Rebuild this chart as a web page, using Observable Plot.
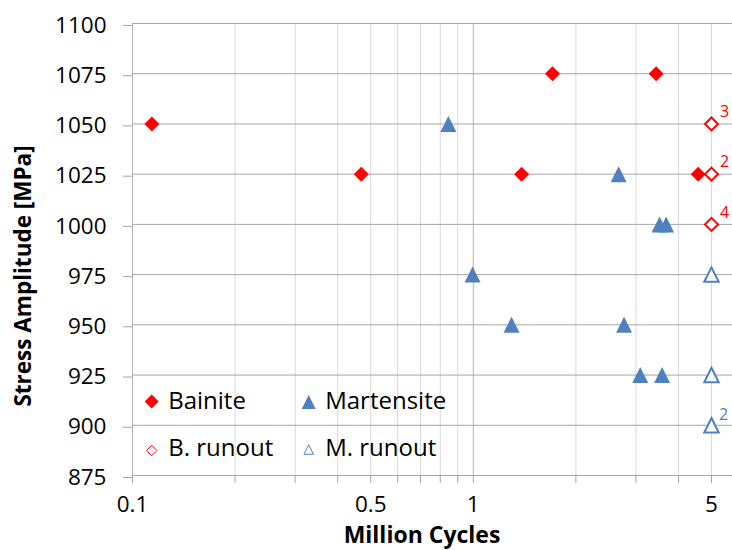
<!DOCTYPE html>
<html>
<head>
<meta charset="utf-8">
<script src="https://cdn.jsdelivr.net/npm/d3@7"></script>
<script src="https://cdn.jsdelivr.net/npm/@observablehq/plot@0.6"></script>
<style>
  body { margin: 0; background: #fff; }
  #wrap { position: relative; width: 732px; height: 550px; overflow: hidden; font-family: "Open Sans", sans-serif; }
  #wrap svg.overlay { position: absolute; left: 0; top: 0; pointer-events: none; }
</style>
</head>
<body>
<div id="wrap"></div>
<script>
// ---- Data ----
const bainiteCycles = [0.114, 0.469, 1.386, 1.708, 3.44, 4.57];
const bainiteStress = [1050, 1025, 1025, 1075, 1075, 1025];

const martensiteCycles = [0.845, 0.995, 1.295, 2.67, 2.77, 3.09, 3.52, 3.58, 3.68];
const martensiteStress = [1050, 975, 950, 1025, 950, 925, 1000, 925, 1000];

const bRunoutCycles = [5, 5, 5];
const bRunoutStress = [1050, 1025, 1000];
const bRunoutCount = [3, 2, 4];

const mRunoutCycles = [5, 5, 5];
const mRunoutStress = [975, 925, 900];
const mRunoutCount = [1, 1, 2];

const seriesNames = ["Bainite", "Martensite", "B. runout", "M. runout"];
const xTickLabels = [0.1, 0.5, 1, 5];
const xMajorGrid = [0.1, 1];
const xMinorGrid = [0.2, 0.3, 0.4, 0.5, 0.6, 0.7, 0.8, 0.9, 2, 3, 4, 5];
const yTicks = [875, 900, 925, 950, 975, 1000, 1025, 1050, 1075, 1100];
const xDomain = [0.1, 5.763];
const yDomain = [875, 1100];

// ---- Styles ----
const RED = "#ff0000";
const BLUE = "#4f81bd";

// bbox-centred symbols whose extent is sqrt(size)
const diamondSym = { draw(ctx, size) { const h = Math.sqrt(size) / 2; ctx.moveTo(0, -h); ctx.lineTo(h, 0); ctx.lineTo(0, h); ctx.lineTo(-h, 0); ctx.closePath(); } };
const triSym = { draw(ctx, size) { const h = Math.sqrt(size) / 2; ctx.moveTo(0, -h); ctx.lineTo(h, h); ctx.lineTo(-h, h); ctx.closePath(); } };
const rFor = s => s / Math.sqrt(Math.PI);

const zip = (xs, ys, extra) => xs.map((x, i) => ({ x, y: ys[i], n: extra ? extra[i] : null }));
const bainite = zip(bainiteCycles, bainiteStress);
const martensite = zip(martensiteCycles, martensiteStress);
const bRunout = zip(bRunoutCycles, bRunoutStress, bRunoutCount);
const mRunout = zip(mRunoutCycles, mRunoutStress, mRunoutCount);

const allTicks = [...xMajorGrid, ...xMinorGrid];

const chart = Plot.plot({
  width: 732,
  height: 550,
  marginLeft: 132,
  marginRight: 0,
  marginTop: 23,
  marginBottom: 75,
  x: { type: "log", domain: xDomain },
  y: { domain: yDomain },
  style: { fontFamily: "'Open Sans', sans-serif", fontSize: "22px", color: "black", background: "white", overflow: "visible" },
  marks: [
    Plot.ruleX(xMinorGrid, { stroke: "#d9d9d9", strokeWidth: 1 }),
    Plot.ruleX(xMajorGrid, { stroke: "#b3b3b3", strokeWidth: 1 }),
    Plot.ruleY(yTicks, { stroke: "#a6a6a6", strokeWidth: 1 }),
    Plot.axisY(yTicks, { tickSize: 9, tickPadding: 17, stroke: "#a6a6a6", fill: "black", strokeOpacity: 1, tickFormat: d => String(d), label: null, fontSize: 22.5, dy: 2 }),
    Plot.axisX(allTicks, { tickSize: 8, stroke: "#a6a6a6", strokeOpacity: 1, tickFormat: () => "", label: null }),
    Plot.axisX(xTickLabels, { tickSize: 0, tickPadding: 21, fill: "black", tickFormat: d => String(d), label: null, fontSize: 22.5 }),
    Plot.dot(bainite, { x: "x", y: "y", symbol: diamondSym, r: rFor(15), fill: RED, stroke: "none" }),
    Plot.dot(martensite, { x: "x", y: "y", symbol: triSym, r: rFor(16), fill: BLUE, stroke: "none" }),
    Plot.dot(bRunout, { x: "x", y: "y", symbol: diamondSym, r: rFor(13), fill: "white", stroke: RED, strokeWidth: 2 }),
    Plot.dot(mRunout, { x: "x", y: "y", symbol: triSym, r: rFor(14.5), fill: "white", stroke: BLUE, strokeWidth: 2 }),
    Plot.text(bRunout.filter(d => d.n > 1), { x: "x", y: "y", text: d => String(d.n), dx: 13, dy: -12, fill: RED, fontSize: 16 }),
    Plot.text(mRunout.filter(d => d.n > 1), { x: "x", y: "y", text: d => String(d.n), dx: 12, dy: -10, fill: BLUE, fontSize: 16 })
  ]
});

const wrap = document.getElementById("wrap");
wrap.appendChild(chart);

// ---- Overlay: axis titles and legend ----
const ov = d3.select(wrap).append("svg").attr("class", "overlay")
  .attr("width", 732).attr("height", 550)
  .style("font-family", "'Open Sans', sans-serif");

ov.append("text")
  .attr("transform", "translate(31,276) rotate(-90)")
  .attr("text-anchor", "middle")
  .attr("font-weight", "bold").attr("font-size", 22.5).attr("fill", "black")
  .text("Stress Amplitude [MPa]");

ov.append("text")
  .attr("x", 422).attr("y", 543)
  .attr("text-anchor", "middle")
  .attr("font-weight", "bold").attr("font-size", 23).attr("fill", "black")
  .text("Million Cycles");

const legendItems = [
  { name: seriesNames[0], sym: diamondSym, s: 14, fill: RED, stroke: "none", sw: 0, mx: 151.7, my: 401.5, ty: 408.5 },
  { name: seriesNames[1], sym: triSym, s: 14, fill: BLUE, stroke: "none", sw: 0, mx: 308.7, my: 402, ty: 408.5 },
  { name: seriesNames[2], sym: diamondSym, s: 10.5, fill: "white", stroke: RED, sw: 1, mx: 151.7, my: 450.5, ty: 456 },
  { name: seriesNames[3], sym: triSym, s: 9.5, fill: "white", stroke: BLUE, sw: 1, mx: 308.7, my: 449.5, ty: 456 }
];
legendItems.forEach(it => {
  const p = d3.path();
  it.sym.draw(p, it.s * it.s);
  ov.append("path").attr("d", p.toString())
    .attr("transform", `translate(${it.mx},${it.my})`)
    .attr("fill", it.fill).attr("stroke", it.stroke).attr("stroke-width", it.sw);
  ov.append("text").attr("x", it.mx + 16.5).attr("y", it.ty)
    .attr("font-size", 24).attr("fill", "black").text(it.name);
});
</script>
</body>
</html>
